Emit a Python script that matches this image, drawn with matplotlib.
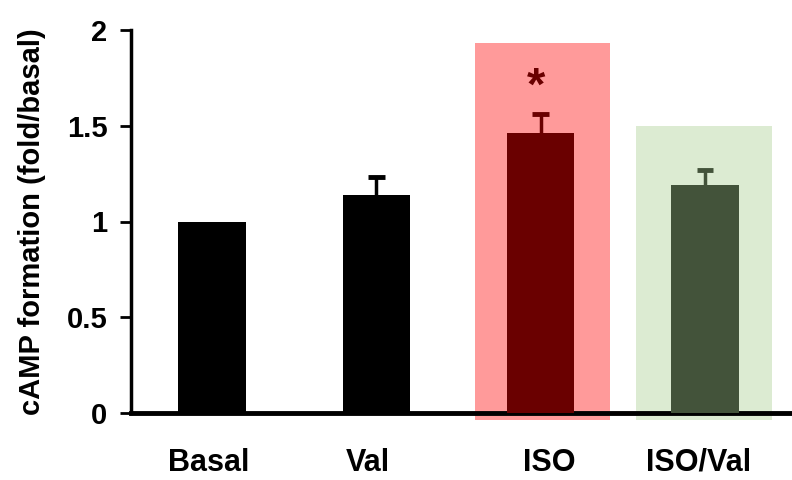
import matplotlib
matplotlib.use("Agg")
import matplotlib.pyplot as plt
from matplotlib.patches import Rectangle

# data
groups = ["Basal", "Val", "ISO", "ISO/Val"]
camp_fold = [1.0, 1.14, 1.46, 1.19]
sem_up = [0.0, 0.09, 0.10, 0.08]
bar_colors = ["#000000", "#000000", "#6a0000", "#43533a"]

plt.rcParams['font.family'] = ['Liberation Sans', 'DejaVu Sans']
plt.rcParams['font.weight'] = 'bold'

fig = plt.figure(figsize=(7.92, 4.80), dpi=100)
ax = fig.add_axes([131 / 792, 1 - 413 / 480, 1 - 131 / 792, (413 - 30) / 480])

x = list(range(len(groups)))

# highlight boxes behind ISO and ISO/Val
ax.add_patch(Rectangle((1.60, -0.037), 0.82, 1.967, facecolor="#ff9a9a",
                       edgecolor="none", zorder=0, clip_on=False))
ax.add_patch(Rectangle((2.58, -0.037), 0.83, 1.537, facecolor="#dcebd2",
                       edgecolor="none", zorder=0, clip_on=False))

ax.bar(x, camp_fold, width=0.41, color=bar_colors, zorder=2)

# upper-only error bars with a cap
for xi, v, e, c in zip(x, camp_fold, sem_up, bar_colors):
    if e > 0:
        ax.vlines(xi, v, v + e, colors=c, linewidth=2.5, zorder=3)
        ax.hlines(v + e, xi - 0.05, xi + 0.05, colors=c, linewidth=3.5, zorder=3)

# significance mark over ISO
ax.text(1.975, 1.70, "*", ha="center", va="center", fontsize=34,
        color="#6a0000", fontweight="bold")

ax.set_xlim(-0.493, 3.53)
ax.set_ylim(0, 2)
ax.set_yticks([0, 0.5, 1, 1.5, 2])
ax.set_yticklabels(["0", "0.5", "1", "1.5", "2"])
ax.tick_params(axis="y", length=8, width=2, labelsize=21, pad=9)
ax.set_xticks([])

for xi, g, dx in zip(x, groups, [-0.02, -0.05, 0.05, -0.04]):
    ax.text(xi + dx, -0.26, g, ha="center", va="center", fontsize=22,
            fontweight="bold")

ax.set_ylabel("cAMP formation (fold/basal)", fontsize=21, fontweight="bold")
ax.yaxis.set_label_coords(-0.128, 0.5)

ax.spines["top"].set_visible(False)
ax.spines["right"].set_visible(False)
ax.spines["left"].set_linewidth(2.5)
ax.spines["bottom"].set_linewidth(3.5)
ax.spines["bottom"].set_zorder(1)

fig.savefig("out.png", dpi=100)
